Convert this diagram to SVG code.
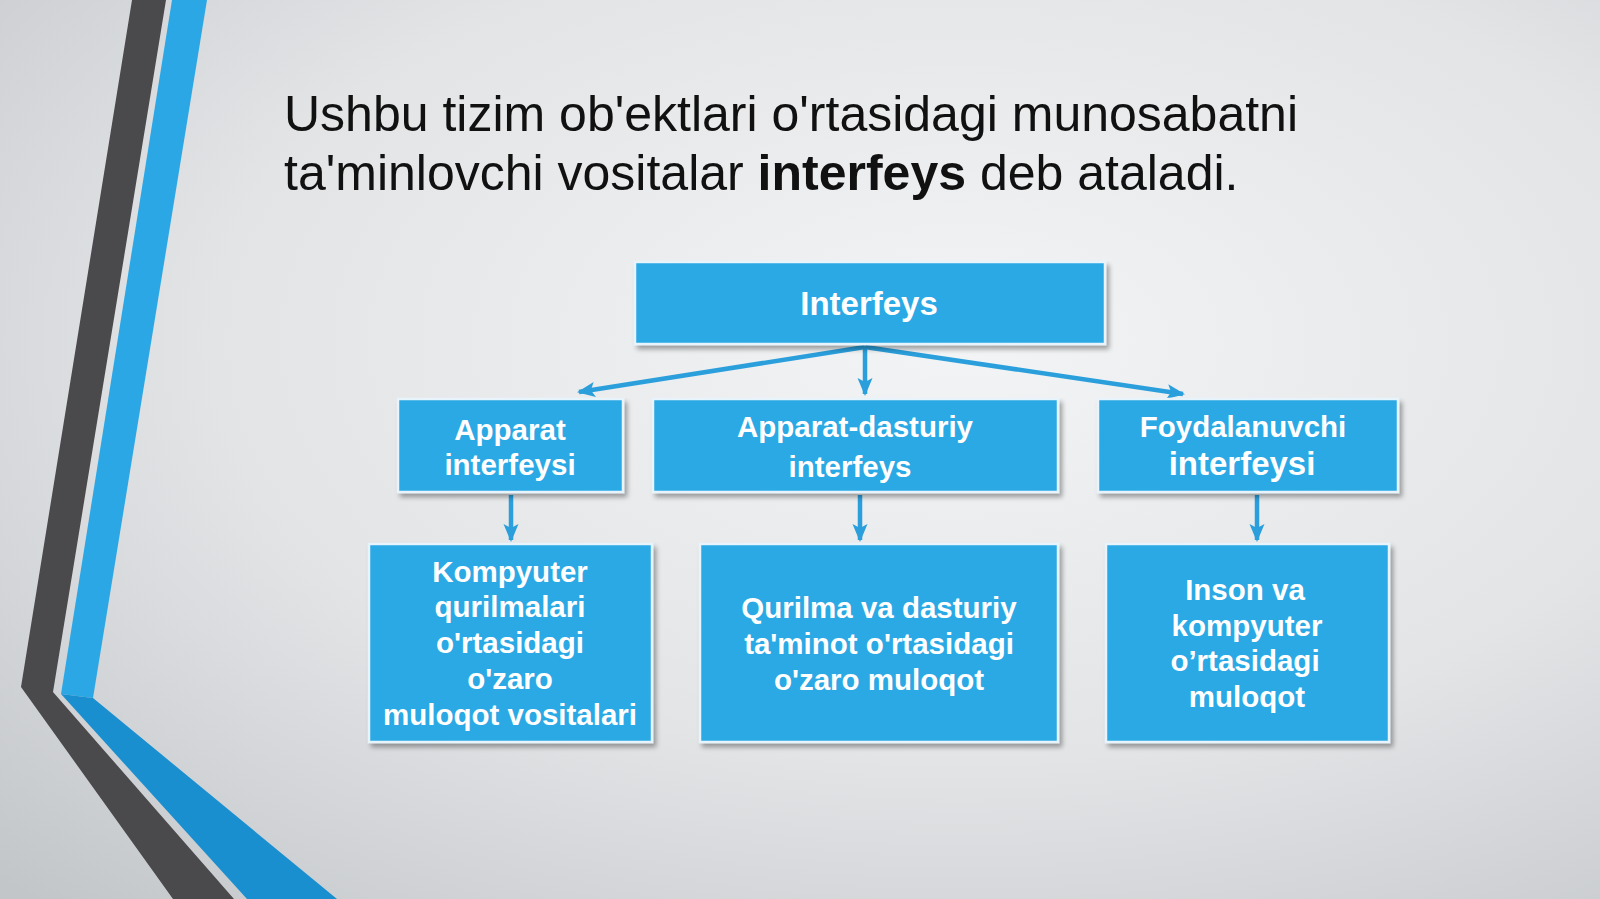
<svg xmlns="http://www.w3.org/2000/svg" width="1600" height="899" viewBox="0 0 1600 899">
<defs>
<radialGradient id="bg" cx="0.6" cy="0.38" r="0.85">
<stop offset="0" stop-color="#f3f4f5"/>
<stop offset="0.55" stop-color="#e2e4e6"/>
<stop offset="1" stop-color="#c3c6c9"/>
</radialGradient>
<filter id="sh" x="-5%" y="-5%" width="112%" height="120%">
<feGaussianBlur in="SourceAlpha" stdDeviation="2.5"/>
<feOffset dx="3" dy="4" result="b"/>
<feComponentTransfer><feFuncA type="linear" slope="0.35"/></feComponentTransfer>
<feMerge><feMergeNode/><feMergeNode in="SourceGraphic"/></feMerge>
</filter>
<marker id="ah" markerUnits="userSpaceOnUse" markerWidth="18" markerHeight="18" viewBox="0 0 18 18" refX="16" refY="9" orient="auto">
<path d="M0,1.5 L18,9 L0,16.5 L4,9 Z" fill="#2a9fdc"/>
</marker>
</defs>
<style>
.box{fill:#2ba9e5;stroke:#e8f4fb;stroke-width:2.5;filter:url(#sh)}
.t{font-family:"Liberation Sans",Arial,sans-serif;font-weight:bold;fill:#ffffff;text-anchor:middle;font-size:29.5px}
.title{font-family:"Liberation Sans",Arial,sans-serif;font-size:50px;fill:#111111}
.con{stroke:#2a9fdc;stroke-width:4.5;fill:none;marker-end:url(#ah)}
</style>
<rect width="1600" height="899" fill="url(#bg)"/>
<g id="decor">
<polygon points="132,0 166,0 53,692 234,899 173,899 21,687" fill="#4a4a4c"/>
<polygon points="172,0 207,0 93,698 61,694" fill="#2ca7e6"/>
<polygon points="61,694 93,698 337,899 247,899" fill="#1a8fcf"/>
</g>
<g id="title">
<text class="title" x="284" y="131">Ushbu tizim ob'ektlari o'rtasidagi munosabatni</text>
<text class="title" x="284" y="190">ta'minlovchi vositalar <tspan font-weight="bold">interfeys</tspan> deb ataladi.</text>
</g>
<g id="connectors">
<line class="con" x1="865" y1="347" x2="579" y2="392"/>
<line class="con" x1="865" y1="347" x2="865" y2="394"/>
<line class="con" x1="865" y1="347" x2="1183" y2="394"/>
<line class="con" x1="511" y1="495" x2="511" y2="540"/>
<line class="con" x1="860" y1="495" x2="860" y2="540"/>
<line class="con" x1="1257" y1="495" x2="1257" y2="540"/>
</g>
<g id="interfeys">
<rect class="box" x="635" y="262" width="470" height="82"/>
<text class="t" x="869" y="315" style="font-size:33px">Interfeys</text>
</g>
<g id="apparat">
<rect class="box" x="398" y="399" width="225" height="93"/>
<text class="t" x="510" y="440">Apparat</text>
<text class="t" x="510" y="475">interfeysi</text>
</g>
<g id="apparat-dasturiy">
<rect class="box" x="653" y="399" width="405" height="93"/>
<text class="t" x="855" y="437">Apparat-dasturiy</text>
<text class="t" x="850" y="477">interfeys</text>
</g>
<g id="foydalanuvchi">
<rect class="box" x="1098" y="399" width="300" height="93"/>
<text class="t" x="1243" y="437">Foydalanuvchi</text>
<text class="t" x="1242" y="475" style="font-size:33px">interfeysi</text>
</g>
<g id="kompyuter">
<rect class="box" x="369" y="544" width="283" height="198"/>
<text class="t" x="510" y="582">Kompyuter</text>
<text class="t" x="510" y="617">qurilmalari</text>
<text class="t" x="510" y="653">o'rtasidagi</text>
<text class="t" x="510" y="689">o'zaro</text>
<text class="t" x="510" y="725">muloqot vositalari</text>
</g>
<g id="qurilma">
<rect class="box" x="700" y="544" width="358" height="198"/>
<text class="t" x="879" y="618">Qurilma va dasturiy</text>
<text class="t" x="879" y="654">ta'minot o'rtasidagi</text>
<text class="t" x="879" y="690">o'zaro muloqot</text>
</g>
<g id="inson">
<rect class="box" x="1106" y="544" width="283" height="198"/>
<text class="t" x="1245" y="600">Inson va</text>
<text class="t" x="1247" y="636">kompyuter</text>
<text class="t" x="1245" y="671">o’rtasidagi</text>
<text class="t" x="1247" y="707">muloqot</text>
</g>
</svg>
